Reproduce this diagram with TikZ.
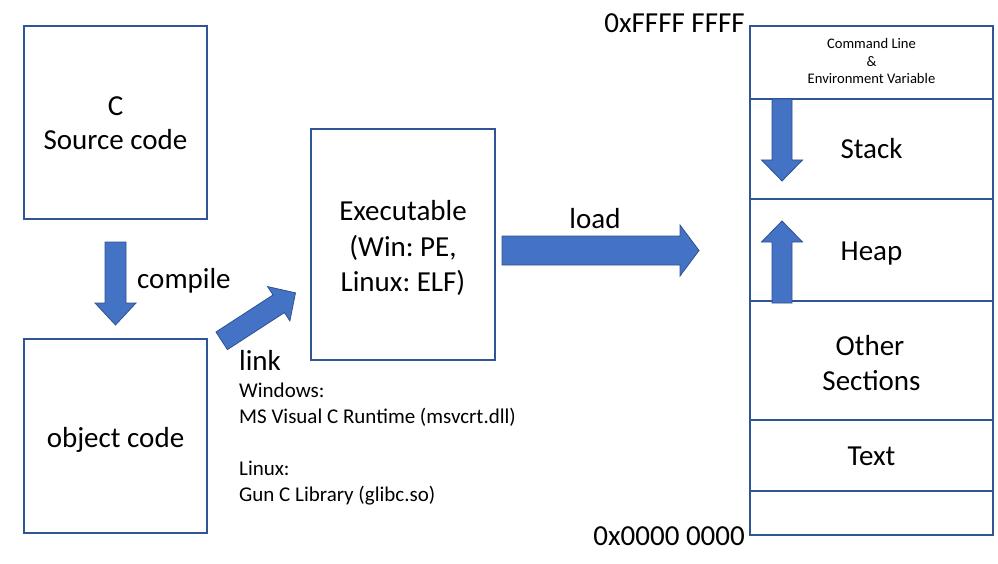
\documentclass[tikz,border=0pt]{standalone}
\usepackage{fontspec}
\setmainfont{Carlito}
\frenchspacing
\definecolor{boxline}{HTML}{2F5597}
\definecolor{arrfill}{HTML}{4472C4}
\definecolor{arrline}{HTML}{2F528F}
\newcommand{\blockarr}[6]{% tail, angle, length, shaft half, head half, head length
  \filldraw[arrsty, shift={#1}, rotate=#2]
    (0,-#4) -- ({#3-#6},-#4) -- ({#3-#6},-#5) -- (#3,0) -- ({#3-#6},#5) -- ({#3-#6},#4) -- (0,#4) -- cycle;}
\begin{document}
\begin{tikzpicture}[x=1pt,y=-1pt,
  box/.style={draw=boxline, line width=1.8pt, inner sep=0pt, fill=white},
  memrow/.style={box, minimum width=243pt},
  arrsty/.style={fill=arrfill, draw=arrline, line width=0.8pt, line join=miter},
  big/.style={font=\fontsize{29}{35}\selectfont, inner sep=0pt},
  small/.style={font=\fontsize{21}{26}\selectfont, inner sep=0pt},
  tiny/.style={font=\fontsize{14.6}{18}\selectfont, inner sep=0pt}]
\useasboundingbox (0,0) rectangle (998,564);
% left boxes
\node[box, minimum width=183pt, minimum height=193pt] (src) at (115.5,122.5) {};
\node[box, minimum width=183pt, minimum height=194pt] (obj) at (115.5,436) {};
\node[box, minimum width=184pt, minimum height=231pt] (exe) at (403,244.5) {};
\node[big, anchor=base] (srcA) at (115.5,116) {C};
\node[big, anchor=base] (srcB) at (115.5,150) {Source code};
\node[big, anchor=base] (objA) at (115.5,447) {object code};
\node[big, anchor=base] (exeA) at (403,221) {Executable};
\node[big, anchor=base] (exeB) at (403,256) {(Win: PE,};
\node[big, anchor=base] (exeC) at (403,291) {Linux: ELF)};
% memory column
\node[memrow, minimum height=73pt] (cmd) at (871.5,62.5) {};
\node[memrow, minimum height=100pt] (stack) at (871.5,149) {};
\node[memrow, minimum height=102pt] (heap) at (871.5,250) {};
\node[memrow, minimum height=119pt] (other) at (871.5,360.5) {};
\node[memrow, minimum height=71pt] (text) at (871.5,455.5) {};
\node[memrow, minimum height=44pt] (bottom) at (871.5,513) {};
\node[tiny, anchor=base] (cmdA) at (871.5,49) {Command Line};
\node[tiny, anchor=base] (cmdB) at (871.5,67) {\&};
\node[tiny, anchor=base] (cmdC) at (871.5,84) {Environment Variable};
\node[big, anchor=base] (stackT) at (871.5,159) {Stack};
\node[big, anchor=base] (heapT) at (871.5,260) {Heap};
\node[big, anchor=base] (otherA) at (870,355) {Other};
\node[big, anchor=base] (otherB) at (871.5,390) {Sections};
\node[big, anchor=base] (textT) at (871.5,465) {Text};
\node[big, anchor=base east] (hiaddr) at (745,33) {0xFFFF FFFF};
\node[big, anchor=base east] (loaddr) at (745,545) {0x0000 0000};
% labels
\node[big, anchor=base west] (compile) at (137,288) {compile};
\node[big, anchor=base west] (link) at (239,370) {link};
\node[big, anchor=base] (load) at (595,229) {load};
\node[small, anchor=base west] (winA) at (239,397) {Windows:};
\node[small, anchor=base west] (winB) at (239,423) {MS Visual C Runtime (msvcrt.dll)};
\node[small, anchor=base west] (linA) at (239,475) {Linux:};
\node[small, anchor=base west] (linB) at (239,501) {Gun C Library (glibc.so)};
% block arrows
\blockarr{(115.5,242)}{-90}{83}{10.5}{20.5}{22}
\blockarr{(221.7,340.8)}{33}{88}{10.5}{20.5}{20}
\blockarr{(502,250.5)}{0}{197}{14.5}{25.5}{19}
\blockarr{(782,99)}{-90}{82}{10}{20.5}{21}
\blockarr{(782,303)}{90}{82}{10}{20.5}{21}
\end{tikzpicture}
\end{document}
